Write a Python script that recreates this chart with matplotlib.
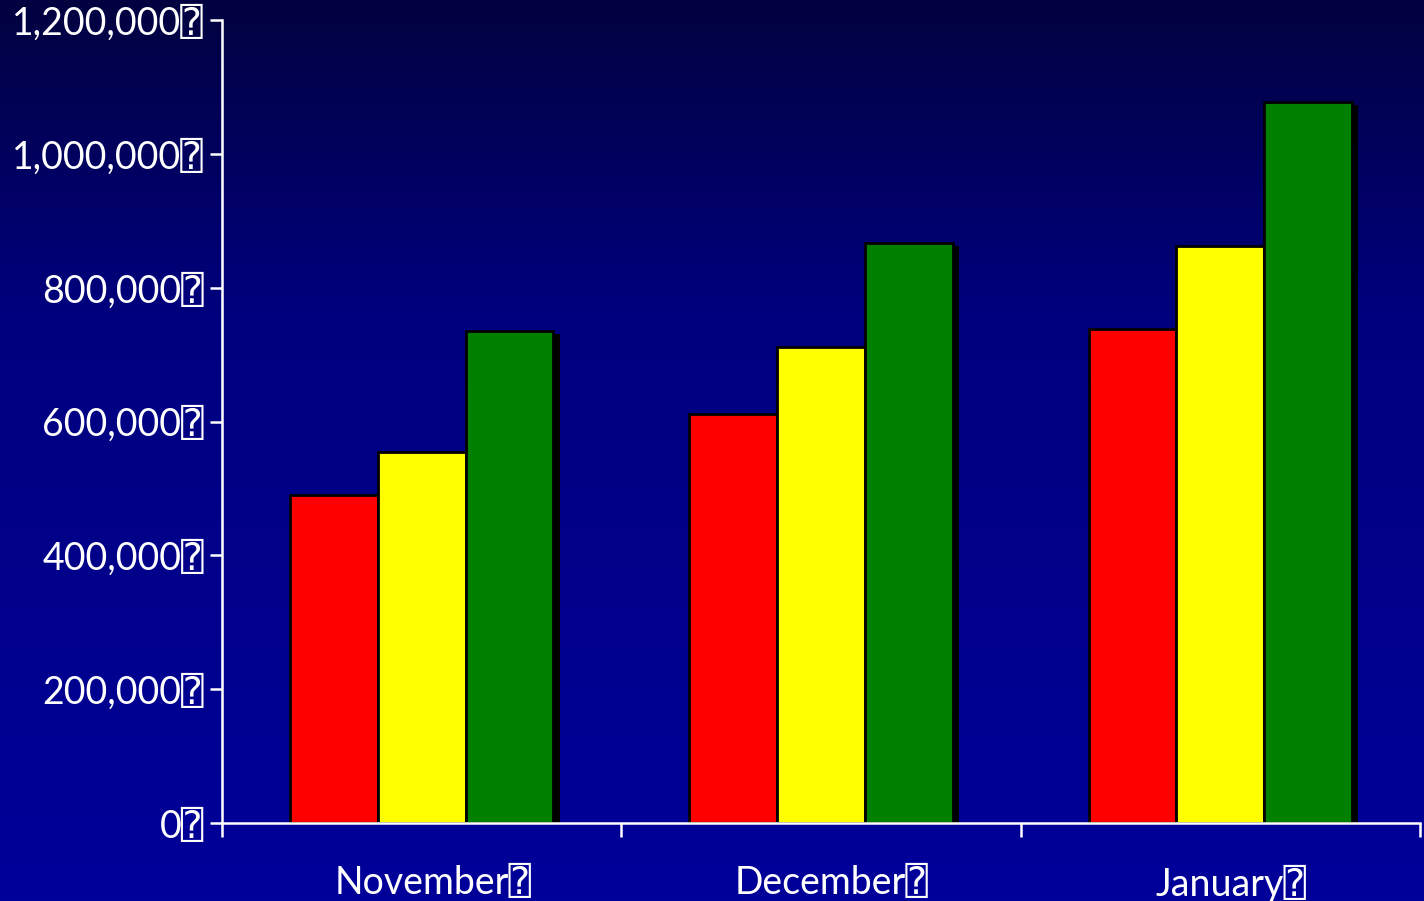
import numpy as np
import matplotlib
matplotlib.use("Agg")
import matplotlib.pyplot as plt
from matplotlib import patheffects as pe
from matplotlib.colors import LinearSegmentedColormap
from matplotlib.transforms import ScaledTranslation

months = ["November", "December", "January"]
series_red = [490000, 611000, 738000]
series_yellow = [554000, 711000, 862000]
series_green = [735000, 867000, 1077000]
yticks = [0, 200000, 400000, 600000, 800000, 1000000, 1200000]
ytick_labels = ["0", "200,000", "400,000", "600,000", "800,000", "1,000,000", "1,200,000"]
MISSING = "\u2370"

fams = ["Lato", "DejaVu Sans Mono", "DejaVu Sans"]

fig = plt.figure(figsize=(14.24, 9.01), dpi=100)

# gradient background
bg = fig.add_axes([0, 0, 1, 1])
cmap = LinearSegmentedColormap.from_list(
    "bg", [(0.0, "#020240"), (0.35, "#00007e"), (1.0, "#00009a")])
grad = np.linspace(0, 1, 256).reshape(-1, 1)
bg.imshow(grad, aspect="auto", cmap=cmap, extent=[0, 1, 1, 0])
bg.axis("off")

ax = fig.add_axes([222 / 1424, 1 - 823 / 901, (1420 - 222) / 1424, (823 - 20) / 901])
ax.set_facecolor("none")

x = np.arange(len(months))
w = 0.22
shadow = [pe.SimplePatchShadow(offset=(4.5, -2), shadow_rgbFace="black", alpha=1.0), pe.Normal()]
for off, vals, col in [(-w, series_red, "#ff0000"), (0, series_yellow, "#ffff00"), (w, series_green, "#008000")]:
    bars = ax.bar(x + off, vals, width=w, color=col, edgecolor="black", linewidth=2.0, zorder=2)
    for b in bars:
        b.set_path_effects(shadow)

ax.set_xlim(-0.5, 2.5)
ax.set_ylim(0, 1200000)

for s in ["top", "right"]:
    ax.spines[s].set_visible(False)
for s in ["left", "bottom"]:
    ax.spines[s].set_color("white")
    ax.spines[s].set_linewidth(1.8)
    ax.spines[s].set_zorder(5)

ax.set_yticks(yticks)
ax.set_yticklabels([t + MISSING for t in ytick_labels])
ax.tick_params(axis="y", colors="white", length=9, width=1.8, pad=4, labelsize=27)
ax.set_xticks(x)
ax.set_xticklabels([m + MISSING for m in months])
ax.tick_params(axis="x", which="major", length=0, colors="white", pad=30, labelsize=27)
ax.set_xticks([-0.5, 0.5, 1.5, 2.5], minor=True)
ax.tick_params(axis="x", which="minor", length=10, width=1.8, color="white")
shift = ScaledTranslation(0.11, 0, fig.dpi_scale_trans)
for lab in ax.get_xticklabels():
    lab.set_transform(lab.get_transform() + shift)
for lab in ax.get_xticklabels() + ax.get_yticklabels():
    lab.set_fontfamily(fams)
    lab.set_color("white")

fig.savefig("out.png", dpi=100)
